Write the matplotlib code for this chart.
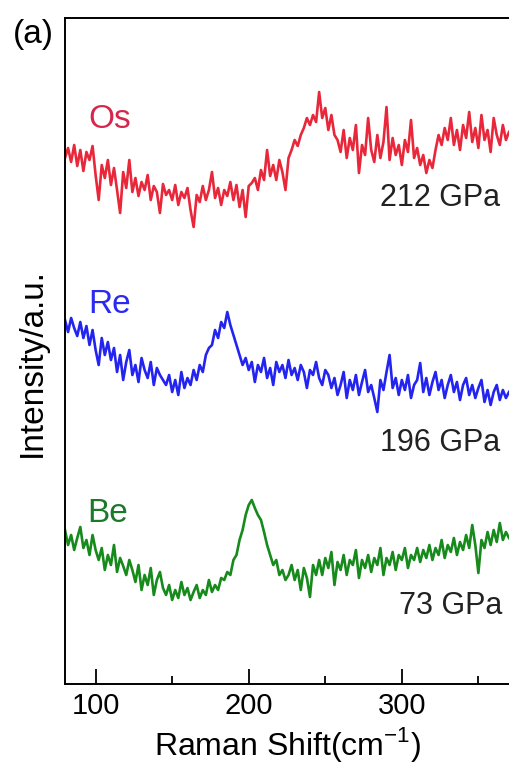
import numpy as np
import matplotlib
matplotlib.use("Agg")
from matplotlib import pyplot as plt

plt.rcParams['font.family'] = ['Liberation Sans', 'DejaVu Sans']
plt.rcParams['mathtext.fontset'] = 'custom'
plt.rcParams['mathtext.rm'] = 'Liberation Sans'

## Dati (Raman shift in cm^-1, passo 2)

shift = np.arange(80, 372, 2)

# letture dal grafico: quota della traccia (profondita' dall'alto, unita' arbitrarie)
os_read = [158, 148, 162, 145, 166, 150, 171, 152, 160, 146, 175,
           200, 165, 178, 160, 185, 168, 190, 213,
           172, 188, 160, 192, 178, 196, 182, 190, 175, 200, 186, 192, 213, 184, 195,
           190, 200, 185, 205, 192, 198, 188, 210, 227, 195, 202, 186, 200, 190, 172,
           198, 188, 205, 190, 196, 182, 200, 185, 207, 190, 217, 186,
           183, 178, 190, 170, 180, 150, 176, 165, 180, 160, 172, 190, 158,
           150, 140, 146, 135,
           128, 118, 125, 115, 122, 92, 118, 108, 130, 115, 135,
           140, 152, 130, 158, 138, 150, 125, 173, 145, 155, 118, 150, 162, 135,
           158, 142, 107, 160, 138, 155, 145, 165, 140, 152, 120, 158, 148,
           165, 155, 173, 160, 168,
           150, 135, 145, 128, 140, 118, 145, 130, 150, 125, 138, 112, 142,
           128, 148, 115, 140, 130, 152, 118, 135, 145, 125, 140, 132]

re_read = [320, 332, 318, 328, 336, 322, 338, 326,
           345, 330, 350, 365, 338, 355, 342,
           360, 348, 372, 355, 380, 362, 350, 375, 365, 382, 358, 370, 378, 362,
           385, 368, 375, 380,
           385, 375, 392, 380, 395, 372, 388, 378, 385, 370, 380,
           365, 372, 355, 348, 345,
           330, 338, 322, 328, 312, 325, 335,
           345, 355, 365, 358,
           370, 362, 382, 365, 372, 358, 378, 368, 385, 362, 372, 365, 378, 360,
           375, 368, 380, 365, 372, 388, 370, 375, 362, 378, 385, 370, 375,
           388, 378, 395, 385, 372, 398, 380, 390, 375, 395, 382, 370, 392, 385,
           398, 412, 380, 390, 372, 355, 388, 378, 395, 380, 390, 375, 398, 385,
           380, 363, 392, 378, 395, 382, 372, 390, 380, 398, 385, 375, 392, 382,
           400, 385, 378, 395, 385, 398, 388, 380, 402, 390, 405, 392, 385, 400,
           390, 398, 392]

be_read = [530, 545, 535, 550, 538, 527, 548, 540, 555, 535, 550,
           560, 548, 570, 555, 565, 545, 572, 558, 566, 575, 560,
           570, 582, 565, 590, 575, 585, 568, 595, 580, 572, 588,
           595, 585, 600, 590, 598, 582, 595, 588, 600, 592, 585, 598, 590, 595,
           580, 592, 585, 590, 578,
           580, 572, 575, 560, 555, 540, 530, 515, 505, 500,
           508, 515, 520, 532, 545, 555, 565, 560, 575, 570, 580, 575,
           565, 580, 570, 590, 568, 578, 597, 565, 575,
           560, 575, 558, 568, 552, 585, 562, 570, 555, 575, 560, 565, 550, 578,
           560, 568, 555, 572, 558, 565, 548, 575, 558, 565, 552, 570, 555, 560,
           548, 568, 555,
           560, 548, 562, 550, 558, 545, 560, 548, 555, 540, 558, 545, 552, 538,
           555, 542, 550, 535, 548, 525, 545, 573, 540, 548, 532, 545, 530, 542,
           523, 540, 532, 538]

campioni = ["Os", "Re", "Be"]
pressioni = ["212 GPa", "196 GPa", "73 GPa"]
colori = ["#e8283a", "#2424f0", "#178a1c"]
colori_nomi = ["#d8264a", "#2a2af0", "#1a7a28"]

# intensita' = quota dell'asse - lettura
quota = 684
spettri = [quota - np.array(v, dtype=float) for v in (os_read, re_read, be_read)]

## Grafico

W, H = 509, 781
fig = plt.figure(figsize=(W / 100, H / 100), dpi=100)
ax = fig.add_axes([65 / W, 97 / H, 444 / W, 666 / H])

for y, c in zip(spettri, colori):
    ax.plot(shift, y, color=c, lw=1.9)

ax.set_xlim(80, 370)
ax.set_ylim(0, 666)
ax.set_xticks([100, 200, 300])
ax.set_xticks([150, 250, 350], minor=True)
ax.set_yticks([])
ax.tick_params(axis='x', which='major', direction='in', length=11, width=1.3,
               labelsize=21, pad=6)
ax.tick_params(axis='x', which='minor', direction='in', length=6, width=1.3)
ax.spines['right'].set_visible(False)
for s in ['left', 'top', 'bottom']:
    ax.spines[s].set_linewidth(1.4)

ax.set_xlabel("Raman Shift(cm$^{-1}$)", fontsize=23, va='top')
ax.xaxis.set_label_coords(0.5, -0.062)
ax.set_ylabel("Intensity/a.u.", fontsize=24)
ax.yaxis.set_label_coords(-0.038, 0.483)

## Etichette

pos_nomi = [(88, 120), (88, 305), (87, 514)]
pos_press = [(500, 198), (500, 443), (502, 606)]
for nome, (px, py), c in zip(campioni, pos_nomi, colori_nomi):
    fig.text(px / W, 1 - py / H, nome, color=c, fontsize=24, ha='left', va='center')
for p, (px, py) in zip(pressioni, pos_press):
    fig.text(px / W, 1 - py / H, p, color='#222222', fontsize=22, ha='right', va='center')

fig.text(13 / W, 1 - 34 / H, "(a)", fontsize=24, ha='left', va='center')

plt.savefig("out.png", dpi=100)
